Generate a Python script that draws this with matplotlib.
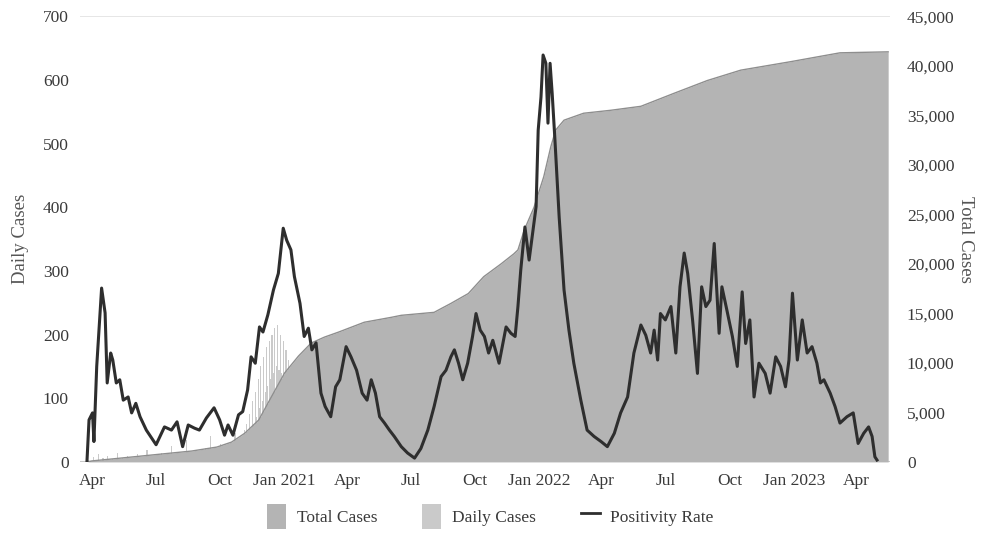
import pandas as pd
import matplotlib
matplotlib.use("Agg")
import matplotlib.pyplot as plt
from matplotlib.patches import Patch
from matplotlib.lines import Line2D
from matplotlib.ticker import FuncFormatter

plt.rcParams["font.family"] = ["Liberation Serif", "DejaVu Serif"]

start = pd.Timestamp("2020-04-01")

# cumulative cases (days after 2020-04-01, total)
total_day = [-7, 0, 29, 86, 143, 179, 200, 219, 239, 257, 276, 296, 314, 333, 353,
             390, 429, 443, 490, 514, 539, 561, 586, 604, 610, 619, 633, 647, 657,
             664, 676, 704, 743, 786, 833, 881, 929, 1000, 1071, 1140]
total_val = [0, 100, 300, 700, 1100, 1500, 2000, 2900, 4240, 6560, 8980, 10700, 12000,
             12600, 13100, 14100, 14600, 14800, 15100, 16000, 17000, 18700, 20000, 21000,
             21400, 23400, 25700, 28800, 31800, 33500, 34500, 35200, 35500, 35900, 37200,
             38500, 39550, 40400, 41300, 41400]

# daily cases
daily_day = [-5, 2, 9, 16, 23, 30, 37, 44, 51, 58, 65, 72, 79, 86, 93, 100, 107, 114,
             121, 128, 135, 142, 149, 156, 163, 170, 177, 184, 191, 198, 205, 212, 218,
             220, 222, 224, 226, 228, 230, 232, 234, 236, 238, 240, 242, 244, 246, 248,
             250, 252, 254, 256, 258, 260, 262, 264, 266, 268, 270, 272, 274, 276, 278,
             280, 282, 284, 286, 288, 290, 292, 294, 296, 298, 300, 302, 304]
daily_val = [3, 8, 12, 6, 10, 5, 14, 6, 9, 4, 12, 8, 18, 5, 10, 14, 6, 25,
             8, 12, 35, 10, 14, 9, 22, 40, 15, 28, 18, 30, 45, 30, 50,
             35, 60, 40, 75, 50, 95, 60, 110, 70, 130, 85, 150, 95, 165, 110,
             180, 120, 190, 130, 200, 140, 210, 150, 215, 145, 200, 140, 190, 130, 175,
             120, 160, 110, 150, 100, 135, 95, 120, 85, 110, 80, 95, 70]

# positivity rate
rate_day = [-7, -4, 1, 3, 7, 14, 19, 22, 27, 30, 35, 40, 45, 52, 57, 63, 69, 78, 92,
            104, 114, 122, 130, 138, 147, 154, 164, 175, 183, 190, 195, 202, 210, 216,
            223, 228, 234, 240, 245, 252, 260, 267, 274, 279, 285, 290, 298, 304, 310,
            315, 321, 328, 334, 342, 349, 355, 364, 371, 379, 387, 394, 400, 406, 412,
            419, 426, 433, 443, 452, 462, 471, 481, 490, 500, 507, 514, 519, 525, 531,
            538, 545, 550, 556, 562, 568, 574, 583, 593, 600, 606, 610, 614, 620, 626,
            631, 636, 639, 643, 646, 650, 653, 656, 659, 663, 669, 676, 683, 690, 700,
            709, 719, 729, 738, 748, 757, 767, 776, 786, 793, 800, 805, 810, 814, 821,
            829, 836, 842, 848, 853, 860, 867, 873, 879, 885, 891, 898, 902, 909, 917,
            924, 931, 936, 942, 948, 955, 964, 971, 979, 986, 993, 998, 1003, 1010,
            1017, 1024, 1031, 1038, 1043, 1048, 1057, 1064, 1071, 1081, 1090, 1097,
            1105, 1112, 1117, 1121, 1124]
rate_val = [0, 66, 77, 32, 150, 273, 234, 124, 171, 160, 124, 129, 97, 102, 77, 92, 71,
            50, 27, 55, 50, 63, 24, 58, 53, 50, 69, 85, 66, 42, 58, 42, 74, 79, 113, 165,
            155, 212, 204, 231, 270, 296, 367, 348, 333, 291, 249, 197, 210, 176, 187,
            108, 87, 71, 118, 129, 181, 165, 144, 108, 97, 129, 108, 71, 61, 50, 40, 24,
            14, 6, 21, 50, 87, 134, 144, 165, 176, 155, 129, 155, 197, 233, 207, 197, 171,
            191, 155, 212, 202, 197, 244, 301, 369, 317, 359, 401, 521, 573, 639, 626,
            532, 626, 579, 505, 385, 270, 207, 155, 97, 50, 40, 32, 24, 45, 77, 102, 171,
            215, 199, 171, 207, 160, 233, 223, 244, 171, 275, 328, 296, 223, 139, 275,
            244, 254, 343, 202, 275, 239, 197, 150, 267, 186, 223, 102, 155, 139, 108,
            165, 150, 118, 160, 265, 160, 223, 171, 181, 155, 124, 129, 108, 87, 61, 71,
            77, 29, 45, 55, 40, 8, 3]

tick_dates = ["2020-04-01", "2020-07-01", "2020-10-01", "2021-01-01", "2021-04-01",
              "2021-07-01", "2021-10-01", "2022-01-01", "2022-04-01", "2022-07-01",
              "2022-10-01", "2023-01-01", "2023-04-01"]
tick_labels = ["Apr", "Jul", "Oct", "Jan 2021", "Apr", "Jul", "Oct", "Jan 2022", "Apr",
               "Jul", "Oct", "Jan 2023", "Apr"]


def to_dates(days):
    return start + pd.to_timedelta(days, unit="D")


c_total = "#b4b4b4"
c_daily = "#cacaca"
c_line = "#2e2e2e"
c_text = "#3a3a3a"

fig = plt.figure(figsize=(9.81, 5.39), dpi=100)
ax = fig.add_axes([0.0815, 0.143, 0.826, 0.827])
ax2 = ax.twinx()
ax3 = ax.twinx()

# daily bars sit behind the cumulative area, the rate line on top of both
ax.bar(to_dates(daily_day), daily_val, width=1.6, color=c_daily, linewidth=0)
ax2.fill_between(to_dates(total_day), total_val, color=c_total, linewidth=0)
ax2.plot(to_dates(total_day), total_val, color="#8e8e8e", lw=1)
ax3.plot(to_dates(rate_day), rate_val, color=c_line, lw=2.2, solid_joinstyle="round")

xmin, xmax = to_dates([-17, 1143])
for a in (ax, ax2, ax3):
    a.set_xlim(xmin, xmax)
    for s in a.spines.values():
        s.set_visible(False)
ax.set_ylim(0, 700)
ax3.set_ylim(0, 700)
ax2.set_ylim(0, 45000)
ax3.set_yticks([])

ax.axhline(700, color="#e2e2e2", lw=1.2, zorder=0)
ax.axhline(0, color="#c8c8c8", lw=1.5, zorder=0)

ax.set_yticks(range(0, 701, 100))
ax2.set_yticks(range(0, 45001, 5000))
ax2.yaxis.set_major_formatter(FuncFormatter(lambda v, p: f"{int(v):,}"))
ax.set_xticks(pd.to_datetime(tick_dates))
ax.set_xticklabels(tick_labels)

ax.tick_params(axis="both", length=0, labelsize=12.5, colors=c_text, pad=8)
ax2.tick_params(axis="y", length=0, labelsize=12.5, colors=c_text, pad=12)

ax.set_ylabel("Daily Cases", fontsize=13.5, color="#555555", labelpad=10)
ax2.set_ylabel("Total Cases", fontsize=13.5, color="#555555", rotation=270, labelpad=14)

handles = [
    Patch(facecolor=c_total, edgecolor="none", label="Total Cases"),
    Patch(facecolor=c_daily, edgecolor="none", label="Daily Cases"),
    Line2D([0], [0], color=c_line, lw=2, label="Positivity Rate"),
]
fig.legend(handles=handles, loc="lower center", bbox_to_anchor=(0.5, -0.01), ncol=3,
           frameon=False, fontsize=12.5, handlelength=1.1, handleheight=1.8,
           handletextpad=0.6, columnspacing=2.6, labelcolor=c_text)

fig.savefig("out.png", dpi=100)
